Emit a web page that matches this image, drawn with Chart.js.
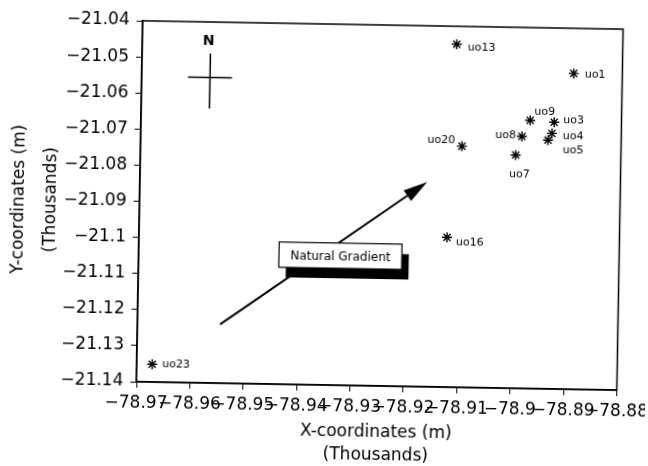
<!DOCTYPE html>
<html>
<head>
<meta charset="utf-8">
<title>Well locations</title>
<script src="https://cdn.jsdelivr.net/npm/chart.js@4.4.1/dist/chart.umd.min.js"></script>
<style>
  html, body { margin: 0; padding: 0; background: #fff; overflow: hidden; }
  /* the original is a slightly skewed scan */
  #my-chart { display: block; transform: rotate(1deg); transform-origin: 324px 233px; }
</style>
</head>
<body>
<canvas id="my-chart" width="648" height="466"></canvas>
<script>
// wells, coordinates in thousands of m
const wellNames = ['uo1', 'uo3', 'uo4', 'uo5', 'uo7', 'uo8', 'uo9', 'uo13', 'uo16', 'uo20', 'uo23'];
const wellX = [-78.8891, -78.8926, -78.8930, -78.8937, -78.8997, -78.8986, -78.8971, -78.9111, -78.9123, -78.9098, -78.9671];
const wellY = [-21.0525, -21.0661, -21.0692, -21.0711, -21.0754, -21.0702, -21.0657, -21.0450, -21.0985, -21.0732, -21.1351];

const xTicks = [-78.97, -78.96, -78.95, -78.94, -78.93, -78.92, -78.91, -78.90, -78.89, -78.88];
const yTicks = [-21.14, -21.13, -21.12, -21.11, -21.10, -21.09, -21.08, -21.07, -21.06, -21.05, -21.04];

// natural gradient arrow (start, tip), its label box and the north cross, in axis units
const arrowX = [-78.9545, -78.9162];
const arrowY = [-21.1237, -21.0833];
const boxX = [-78.9437, -78.9207];
const boxY = [-21.1006, -21.1076];
const northX = -78.9572;
const northY = -21.0554;

// where each well name sits next to its marker: [align, dx, dy] in px
const labelPlace = [
  ['left', 11, 1], ['left', 9, -2], ['left', 11, 3], ['left', 15, 10],
  ['center', 4, 19], ['right', -6, -1], ['left', 4, -9], ['left', 11, 3],
  ['left', 9, 5], ['right', -7, -6], ['left', 10, 0]
];

const fmt = v => String(parseFloat(v.toFixed(2))).replace('-', '\u2212');

const extras = {
  id: 'extras',
  afterDatasetsDraw(chart) {
    const { ctx, chartArea: a } = chart;
    const x = chart.scales.x, y = chart.scales.y;
    ctx.save();
    ctx.strokeStyle = '#000';
    ctx.fillStyle = '#000';

    // frame
    ctx.lineWidth = 1.5;
    ctx.strokeRect(a.left, a.top, a.right - a.left, a.bottom - a.top);

    // well names
    ctx.font = '11px "DejaVu Sans"';
    ctx.textBaseline = 'middle';
    wellNames.forEach((name, i) => {
      const [align, dx, dy] = labelPlace[i];
      ctx.textAlign = align;
      ctx.fillText(name, x.getPixelForValue(wellX[i]) + dx, y.getPixelForValue(wellY[i]) + dy);
    });

    // arrow
    const x0 = x.getPixelForValue(arrowX[0]), y0 = y.getPixelForValue(arrowY[0]);
    const x1 = x.getPixelForValue(arrowX[1]), y1 = y.getPixelForValue(arrowY[1]);
    const ang = Math.atan2(y1 - y0, x1 - x0);
    const head = 24, half = 6.5;
    const bx = x1 - head * Math.cos(ang), by = y1 - head * Math.sin(ang);
    ctx.lineWidth = 2;
    ctx.beginPath();
    ctx.moveTo(x0, y0);
    ctx.lineTo(bx, by);
    ctx.stroke();
    ctx.beginPath();
    ctx.moveTo(x1, y1);
    ctx.lineTo(bx + half * Math.sin(ang), by - half * Math.cos(ang));
    ctx.lineTo(bx - half * Math.sin(ang), by + half * Math.cos(ang));
    ctx.closePath();
    ctx.fill();

    // box with drop shadow
    const l = x.getPixelForValue(boxX[0]), r = x.getPixelForValue(boxX[1]);
    const t = y.getPixelForValue(boxY[0]), b = y.getPixelForValue(boxY[1]);
    ctx.fillRect(l + 7, t + 10, r - l, b - t);
    ctx.fillStyle = '#fff';
    ctx.fillRect(l, t, r - l, b - t);
    ctx.lineWidth = 1.2;
    ctx.strokeRect(l, t, r - l, b - t);
    ctx.fillStyle = '#000';
    ctx.font = '12px "DejaVu Sans"';
    ctx.textAlign = 'center';
    ctx.fillText('Natural Gradient', (l + r) / 2, (t + b) / 2 + 1);

    // north cross
    const nx = x.getPixelForValue(northX), ny = y.getPixelForValue(northY);
    ctx.lineWidth = 1.5;
    ctx.beginPath();
    ctx.moveTo(nx - 22, ny);
    ctx.lineTo(nx + 22, ny);
    ctx.moveTo(nx, ny - 24);
    ctx.lineTo(nx, ny + 31);
    ctx.stroke();
    ctx.font = 'bold 14px "DejaVu Sans"';
    ctx.fillText('N', nx - 2, ny - 36);
    ctx.restore();
  }
};

Chart.defaults.font.family = '"DejaVu Sans"';
Chart.defaults.color = '#000';

const points = wellX.map((v, i) => ({ x: v, y: wellY[i] }));

const axisGrid = { drawOnChartArea: false, drawTicks: true, tickLength: 6, color: '#000', lineWidth: 1 };
const axisBorder = { display: true, color: '#000', width: 1.5 };

const ctx = document.getElementById('my-chart').getContext('2d');
const chart = new Chart(ctx, {
  type: 'scatter',
  data: {
    datasets: [{
      data: points,
      pointStyle: 'star',
      pointRadius: 5,
      borderWidth: 1.4,
      borderColor: '#000',
      backgroundColor: '#000'
    }]
  },
  options: {
    responsive: false,
    animation: false,
    layout: { padding: { top: 24, right: 28.5, bottom: 0, left: 0 } },
    plugins: { legend: { display: false }, tooltip: { enabled: false } },
    scales: {
      x: {
        type: 'linear',
        min: -78.97,
        max: -78.88,
        afterBuildTicks: s => { s.ticks = xTicks.map(v => ({ value: v })); },
        afterFit: s => { s.height = 81; s.paddingLeft = 0; s.paddingRight = 0; },
        grid: axisGrid,
        border: axisBorder,
        ticks: { autoSkip: false, maxRotation: 0, minRotation: 0, padding: 5, font: { size: 17 }, callback: v => fmt(v) },
        title: { display: true, text: ['X-coordinates (m)', '(Thousands)'], font: { size: 17, lineHeight: '23px' }, padding: { top: 0, bottom: 0 } }
      },
      y: {
        type: 'linear',
        min: -21.14,
        max: -21.04,
        afterBuildTicks: s => { s.ticks = yTicks.map(v => ({ value: v })); },
        afterFit: s => { s.width = 139; },
        grid: axisGrid,
        border: axisBorder,
        ticks: { autoSkip: false, padding: 7, font: { size: 17 }, callback: v => fmt(v) },
        title: { display: true, text: ['Y-coordinates (m)', '(Thousands)'], font: { size: 17, lineHeight: '31.5px' }, padding: { top: 3, bottom: 0 } }
      }
    }
  },
  plugins: [extras]
});
</script>
</body>
</html>
